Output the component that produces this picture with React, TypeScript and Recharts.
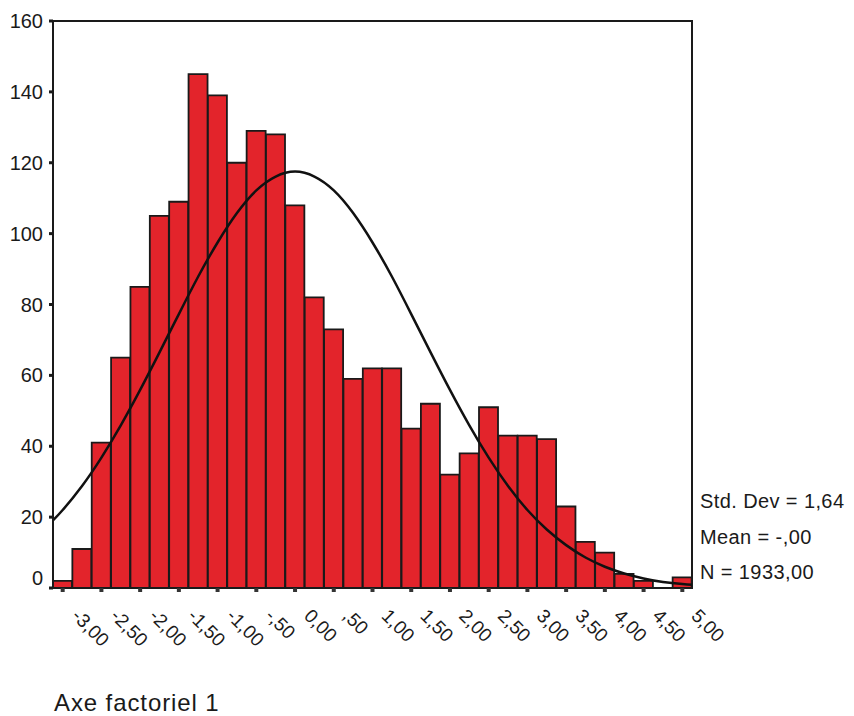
import React from "react";
import {
  ComposedChart,
  Bar,
  Line,
  XAxis,
  YAxis,
  ReferenceArea,
} from "recharts";

// Histogram bins (centres) and counts
const binCenters = [
  -3, -2.75, -2.5, -2.25, -2, -1.75, -1.5, -1.25, -1, -0.75, -0.5, -0.25, 0,
  0.25, 0.5, 0.75, 1, 1.25, 1.5, 1.75, 2, 2.25, 2.5, 2.75, 3, 3.25, 3.5, 3.75,
  4, 4.25, 4.5, 4.75, 5,
];
const counts = [
  2, 11, 41, 65, 85, 105, 109, 145, 139, 120, 129, 128, 108, 82, 73, 59, 62, 62,
  45, 52, 32, 38, 51, 43, 43, 42, 23, 13, 10, 4, 2, 0, 3,
];

// Fitted normal curve
const curveX = [
  -3.125, -3, -2.75, -2.5, -2.25, -2, -1.75, -1.5, -1.25, -1, -0.75, -0.5,
  -0.25, 0, 0.25, 0.5, 0.75, 1, 1.25, 1.5, 1.75, 2, 2.25, 2.5, 2.75, 3, 3.25,
  3.5, 3.75, 4, 4.25, 4.5, 4.75, 5, 5.125,
];
const curveY = [
  19.1, 22.0, 28.8, 36.8, 45.9, 55.9, 66.5, 77.3, 87.9, 97.5, 105.8, 112.2,
  116.1, 117.5, 116.1, 112.2, 105.8, 97.5, 87.9, 77.3, 66.5, 55.9, 45.9, 36.8,
  28.8, 22.0, 16.5, 12.1, 8.6, 6.0, 4.1, 2.7, 1.7, 1.1, 0.9,
];

// Axis ticks
const xTicks = [-3, -2.5, -2, -1.5, -1, -0.5, 0, 0.5, 1, 1.5, 2, 2.5, 3, 3.5, 4, 4.5, 5];
const xTickLabels = [
  "-3,00", "-2,50", "-2,00", "-1,50", "-1,00", "-,50", "0,00", ",50", "1,00",
  "1,50", "2,00", "2,50", "3,00", "3,50", "4,00", "4,50", "5,00",
];
const yTicks = [0, 20, 40, 60, 80, 100, 120, 140, 160];

const statsLines = ["Std. Dev = 1,64", "Mean = -,00", "N = 1933,00"];
const axisTitle = "Axe factoriel 1";

const X_MIN = -3.125;
const X_MAX = 5.125;

const barData = binCenters.map((x, i) => ({ x, count: counts[i] }));
const curveData = curveX.map((x, i) => ({ x, curve: curveY[i] }));

const W = 854;
const H = 716;
const MARGIN = { top: 21, right: 162, bottom: 0, left: 0 };
const Y_AXIS_W = 53;
const X_AXIS_H = 128;

const FONT = "'Liberation Sans', Arial, Helvetica, sans-serif";

const XTick = (props: any) => {
  const { x, y, payload } = props;
  const idx = xTicks.indexOf(payload.value);
  const label = idx >= 0 ? xTickLabels[idx] : "";
  const tx = x + 8;
  const ty = y + 23;
  return (
    <text
      x={tx}
      y={ty}
      transform={`rotate(45, ${tx}, ${ty})`}
      textAnchor="start"
      fontSize={19}
      fontFamily={FONT}
      fill="#1a1a1a"
    >
      {label}
    </text>
  );
};

const YTick = (props: any) => {
  const { x, y, payload } = props;
  const yy = payload.value === 0 ? y - 10 : y;
  return (
    <text
      x={x - 4}
      y={yy}
      dy={7}
      textAnchor="end"
      fontSize={20}
      fontFamily={FONT}
      fill="#1a1a1a"
    >
      {payload.value}
    </text>
  );
};

export default function App() {
  return (
    <div
      style={{
        position: "absolute",
        left: 0,
        top: 0,
        width: W,
        height: H,
        background: "#ffffff",
      }}
    >
      <ComposedChart
        width={W}
        height={H}
        data={barData}
        margin={MARGIN}
        barCategoryGap={0}
        barGap={0}
      >
        <XAxis
          xAxisId="bins"
          dataKey="x"
          type="category"
          hide
          height={0}
          padding={{ left: 0, right: 0 }}
        />
        <XAxis
          xAxisId="num"
          dataKey="x"
          type="number"
          domain={[X_MIN, X_MAX]}
          ticks={xTicks}
          interval={0}
          allowDataOverflow
          height={X_AXIS_H}
          tick={<XTick />}
          tickSize={4}
          tickLine={{ stroke: "#333", strokeWidth: 4 }}
          axisLine={{ stroke: "#1a1a1a", strokeWidth: 2 }}
        />
        <YAxis
          type="number"
          domain={[0, 160]}
          ticks={yTicks}
          interval={0}
          width={Y_AXIS_W}
          tick={<YTick />}
          tickSize={4}
          tickLine={{ stroke: "#1a1a1a", strokeWidth: 3 }}
          axisLine={{ stroke: "#1a1a1a", strokeWidth: 2 }}
        />
        <Bar
          xAxisId="bins"
          dataKey="count"
          fill="#e3242b"
          stroke="#1a1a1a"
          strokeWidth={1.8}
          isAnimationActive={false}
        />
        <Line
          xAxisId="num"
          data={curveData}
          dataKey="curve"
          type="natural"
          stroke="#111111"
          strokeWidth={2.5}
          dot={false}
          activeDot={false}
          isAnimationActive={false}
        />
        <ReferenceArea
          xAxisId="num"
          x1={X_MIN}
          x2={X_MAX}
          y1={0}
          y2={160}
          fill="none"
          fillOpacity={0}
          stroke="#1a1a1a"
          strokeWidth={2}
          ifOverflow="visible"
        />
      </ComposedChart>
      <svg
        width={W}
        height={H}
        style={{ position: "absolute", left: 0, top: 0, pointerEvents: "none" }}
      >
        {statsLines.map((s, i) => (
          <text
            key={s}
            x={700}
            y={508 + i * 35.5}
            fontSize={20}
            letterSpacing={0.4}
            fontFamily={FONT}
            fill="#1a1a1a"
          >
            {s}
          </text>
        ))}
        <text
          x={54}
          y={711}
          fontSize={24}
          letterSpacing={0.9}
          fontFamily={FONT}
          fill="#1a1a1a"
        >
          {axisTitle}
        </text>
      </svg>
    </div>
  );
}
